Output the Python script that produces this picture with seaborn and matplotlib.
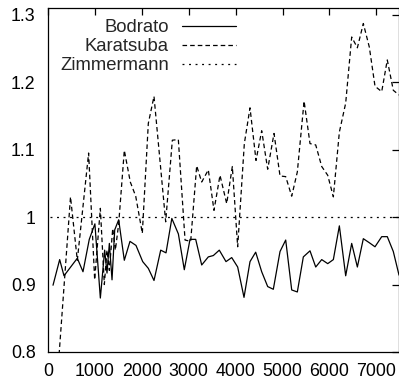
import numpy as np
import pandas as pd
import seaborn as sns
import matplotlib.pyplot as plt
from matplotlib.ticker import FuncFormatter

# Data
bodrato_x = [107, 249, 341, 625, 746, 880, 1000, 1116, 1208, 1258, 1308, 1365, 1422, 1507,
             1627, 1748, 1876, 2019, 2139, 2260, 2403, 2516, 2640, 2780, 2906, 3028, 3149,
             3277, 3418, 3525, 3652, 3795, 3917, 4044, 4179, 4307, 4428, 4556, 4684, 4804,
             4947, 5068, 5196, 5316, 5444, 5586, 5708, 5836, 5964, 6084, 6212, 6347, 6475,
             6596, 6723, 6851, 6972, 7115, 7234, 7362, 7484]
bodrato_y = [0.899, 0.937, 0.913, 0.939, 0.919, 0.967, 0.990, 0.880, 0.951, 0.917, 0.961,
             0.907, 0.981, 0.996, 0.936, 0.964, 0.958, 0.934, 0.924, 0.906, 0.951, 0.947,
             0.998, 0.975, 0.922, 0.967, 0.967, 0.929, 0.941, 0.943, 0.951, 0.934, 0.940,
             0.926, 0.881, 0.934, 0.948, 0.919, 0.897, 0.893, 0.949, 0.966, 0.892, 0.889,
             0.941, 0.950, 0.926, 0.937, 0.931, 0.937, 0.987, 0.913, 0.961, 0.926, 0.968,
             0.962, 0.956, 0.971, 0.971, 0.949, 0.914]

karatsuba_x = [107, 480, 625, 866, 995, 1116, 1201, 1258, 1308, 1380, 1436, 1507, 1627,
               1755, 1870, 2011, 2139, 2260, 2509, 2651, 2779, 2922, 3042, 3170, 3277, 3418,
               3539, 3667, 3810, 3930, 4044, 4186, 4307, 4435, 4556, 4684, 4819, 4947, 5068,
               5196, 5316, 5460, 5586, 5708, 5836, 5964, 6084, 6212, 6347, 6475, 6596, 6723,
               6851, 6972, 7115, 7234, 7362, 7484]
karatsuba_y = [0.672, 1.030, 0.936, 1.095, 0.907, 1.013, 0.900, 0.951, 0.921, 0.983, 0.951,
               0.990, 1.099, 1.052, 1.031, 0.976, 1.139, 1.179, 0.993, 1.114, 1.115, 0.966,
               0.964, 1.076, 1.052, 1.070, 1.010, 1.062, 1.020, 1.075, 0.956, 1.109, 1.162,
               1.084, 1.128, 1.071, 1.124, 1.061, 1.060, 1.031, 1.067, 1.172, 1.109, 1.107,
               1.075, 1.062, 1.030, 1.126, 1.169, 1.267, 1.251, 1.287, 1.252, 1.194, 1.186,
               1.233, 1.188, 1.181]

zimmermann_x = [40, 7484]
zimmermann_y = [1.0, 1.0]

x_ticks = [0, 1000, 2000, 3000, 4000, 5000, 6000, 7000]
y_ticks = [0.8, 0.9, 1.0, 1.1, 1.2, 1.3]

sns.set_style("white")
plt.rcParams['font.family'] = ['Liberation Sans', 'DejaVu Sans']
plt.rcParams['lines.scale_dashes'] = False

fig = plt.figure(figsize=(3.99, 3.84), dpi=100)
ax = fig.add_axes([48 / 399, 32 / 384, 350.5 / 399, 344 / 384])

sns.lineplot(x=bodrato_x, y=bodrato_y, ax=ax, color='black', linewidth=0.9,
             label='Bodrato')
sns.lineplot(x=karatsuba_x, y=karatsuba_y, ax=ax, color='black', linewidth=0.9,
             linestyle=(0, (3.3, 2.2)), label='Karatsuba')
sns.lineplot(x=zimmermann_x, y=zimmermann_y, ax=ax, color='black', linewidth=0.9,
             linestyle=(0, (1.4, 3.3)), label='Zimmermann')

ax.set_xlim(0, 7473)
ax.set_ylim(0.8, 1.31)
ax.set_xticks(x_ticks)
ax.set_yticks(y_ticks)
ax.yaxis.set_major_formatter(FuncFormatter(lambda v, p: f"{v:g}"))
ax.tick_params(direction='in', top=True, right=True, length=4.8, width=0.9,
               labelsize=12.8, colors='black')
ax.tick_params(axis='y', pad=9)
ax.tick_params(axis='x', pad=8)
for s in ax.spines.values():
    s.set_color('black')
    s.set_linewidth(0.9)
ax.set_xlabel('')
ax.set_ylabel('')

# markerfirst=False puts the line sample after the right-aligned text, as gnuplot does
ax.legend(loc='upper right', bbox_to_anchor=((236 - 48) / 350.5, 0.967),
          frameon=False, markerfirst=False, fontsize=13.3, handlelength=2.93,
          handletextpad=0.7, labelspacing=0.1, borderpad=0, borderaxespad=0)

fig.savefig('out.png', dpi=100)
